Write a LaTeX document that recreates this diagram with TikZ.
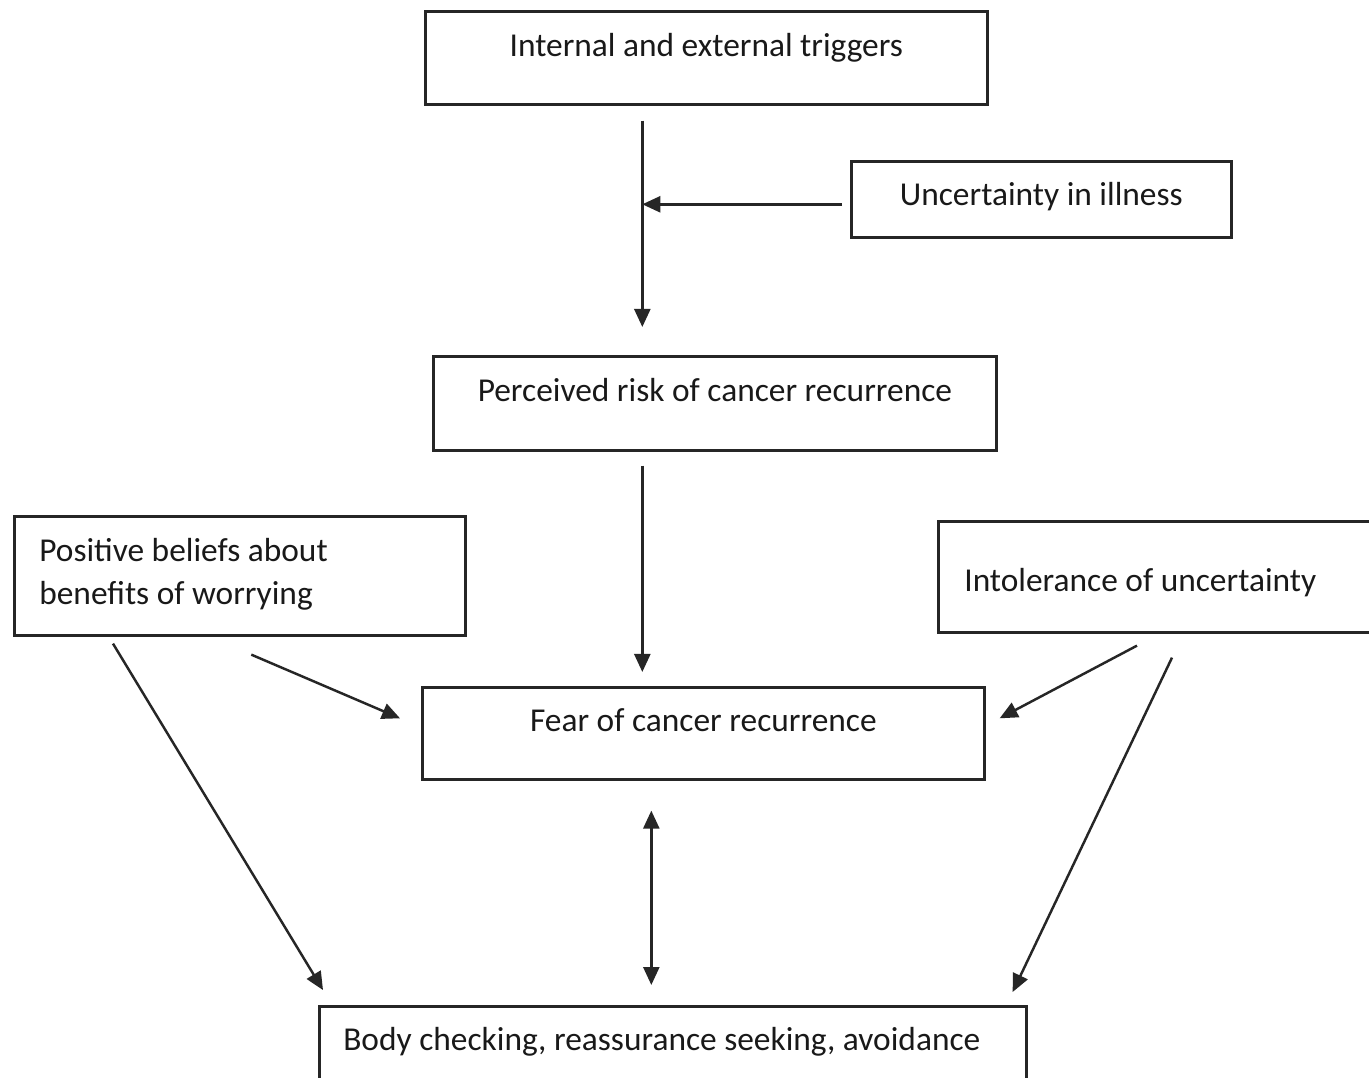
\documentclass[tikz,border=0pt]{standalone}
\usepackage{fontspec}
\setmainfont{Carlito}
\usepackage{tikz}
\usetikzlibrary{arrows.meta, positioning, calc}

\tikzset{
  box/.style={draw=black!85, line width=0.75pt, inner ysep=0pt, inner xsep=0pt,
    anchor=north west, font=\fontsize{9.5}{12.2}\selectfont, text=black!90},
  leftbox/.style={box, align=flush left, inner xsep=0.25cm},
  arr/.style={draw=black!85, line width=0.7pt, -{Triangle[length=0.18cm,width=0.16cm]}},
  darr/.style={draw=black!85, line width=0.7pt, {Triangle[length=0.18cm,width=0.16cm]}-{Triangle[length=0.18cm,width=0.16cm]}}
}

\begin{document}
\begin{tikzpicture}
\useasboundingbox (0,0) rectangle (13.69,-10.78);
\clip (0,0) rectangle (13.69,-10.78);
\fill[white] (0,0) rectangle (13.69,-10.78);

% boxes
\node[box, minimum width=5.62cm, text height=0.45cm, text depth=0.48cm] (trig) at (4.24,-0.10) {Internal and external triggers};
\node[box, minimum width=3.80cm, text height=0.44cm, text depth=0.32cm] (unc) at (8.50,-1.60) {Uncertainty in illness};
\node[box, minimum width=5.63cm, text height=0.45cm, text depth=0.49cm] (risk) at (4.32,-3.55) {Perceived risk of cancer recurrence};
\node[leftbox, text width=4.01cm, text height=0.45cm, text depth=0.74cm] (pos) at (0.13,-5.15) {Positive beliefs about\\benefits of worrying};
\node[leftbox, inner xsep=0.26cm, text width=3.91cm, text height=0.70cm, text depth=0.41cm] (intol) at (9.37,-5.20) {Intolerance of uncertainty};
\node[box, minimum width=5.62cm, text height=0.44cm, text depth=0.48cm] (fear) at (4.21,-6.86) {Fear of cancer recurrence};
\node[leftbox, inner xsep=0.24cm, text width=6.59cm, text height=0.44cm, text depth=0.50cm] (body) at (3.18,-10.05) {Body checking, reassurance seeking, avoidance};

% arrows
\coordinate (spine) at ([xshift=-0.64cm]trig.south);
\draw[arr] ([yshift=-0.15cm]spine) -- ([yshift=0.28cm]spine |- risk.north);
\draw[arr] ([xshift=-0.08cm,yshift=-0.05cm]unc.west) coordinate (u) -- (u -| spine);
\draw[arr] ([yshift=-0.14cm]spine |- risk.south) -- ([yshift=0.14cm]spine |- fear.north);
\draw[arr] ([xshift=0.115cm,yshift=-0.18cm]pos.south) -- ([xshift=-0.21cm,yshift=0.15cm]fear.west);
\draw[arr] ([xshift=2.00cm,yshift=-0.12cm]intol.south west) -- ([xshift=0.14cm,yshift=0.15cm]fear.east);
\draw[arr] ([xshift=1.00cm,yshift=-0.07cm]pos.south west) -- ([xshift=0.05cm,yshift=0.15cm]body.north west);
\draw[arr] ([xshift=2.35cm,yshift=-0.24cm]intol.south west) -- ([xshift=-0.15cm,yshift=0.13cm]body.north east);
\draw[darr] ([xshift=-0.52cm,yshift=-0.30cm]fear.south) -- ([xshift=-0.215cm,yshift=0.20cm]body.north);
\end{tikzpicture}
\end{document}
